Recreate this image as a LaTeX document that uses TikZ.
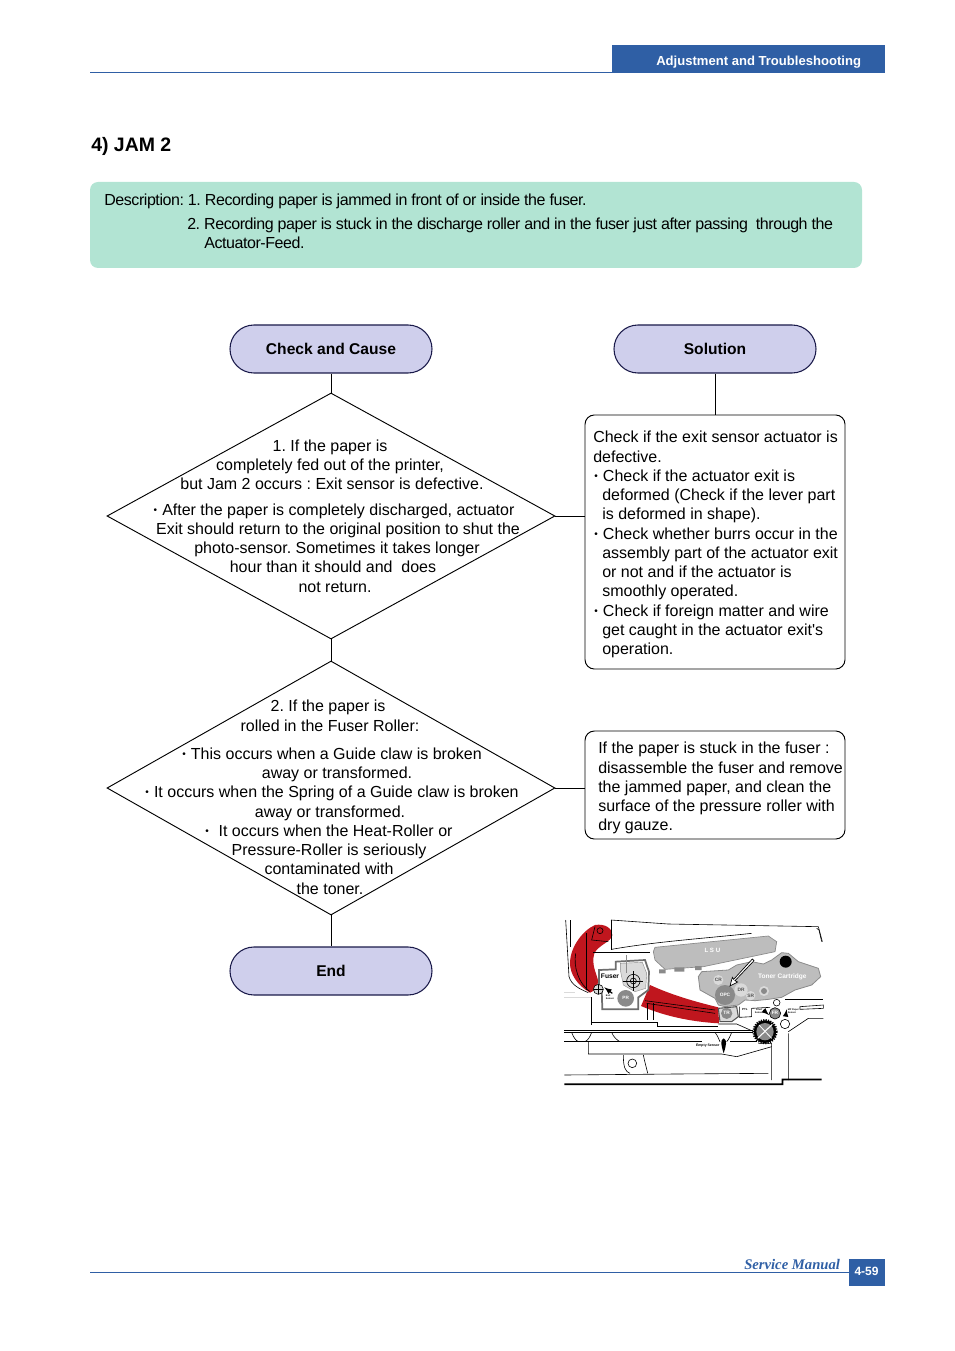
\documentclass[tikz,border=0pt]{standalone}
\usepackage{fontspec}
\setmainfont{Liberation Sans}
\newfontfamily\serifsm{Liberation Serif}
\usetikzlibrary{shapes.geometric}
\definecolor{hdrblue}{HTML}{2F5FA5}
\definecolor{descgreen}{HTML}{B2E4D3}
\definecolor{pilllav}{HTML}{CFCFEC}
\definecolor{pillline}{HTML}{1A1A4A}
\definecolor{swoosh}{HTML}{C0161E}
\definecolor{tonergray}{HTML}{BDBDBD}
\definecolor{rollgray}{HTML}{8A8A8A}
\definecolor{rolllight}{HTML}{DADADA}
\newcommand{\bul}{\raisebox{1pt}{\fontsize{7.5}{7.5}\selectfont •}\hspace{3.9pt}}
\newcommand{\pilltext}[1]{\raisebox{-.75pt}{#1}}
\frenchspacing
\tikzset{
  pill/.style={draw=pillline,fill=pilllav,line width=.8pt,rounded corners=18pt,minimum width=151.5pt,minimum height=36pt,inner sep=0pt,font=\fontsize{11.7}{14}\bfseries\selectfont},
  dia/.style={draw=black,line width=.7pt,diamond,aspect=1.8,inner sep=0pt,minimum width=336pt},
  sol/.style={draw=black,line width=.7pt,rounded corners=7pt,minimum width=195pt,inner sep=0pt},
  conn/.style={draw=black,line width=.7pt},
  txt/.style={inner sep=0pt,font=\fontsize{12}{14}\selectfont},
  ctr/.style={txt,anchor=base},
  lft/.style={txt,anchor=base west},
  desctxt/.style={lft,font=\fontsize{12}{14}\selectfont\addfontfeatures{LetterSpace=-2.7}},
  part/.style={line width=.45pt,draw=black},
  tiny/.style={inner sep=0pt,font=\fontsize{3.6}{4}\bfseries\selectfont},
}
\begin{document}
\begin{tikzpicture}[x=.75pt,y=-.75pt]
\useasboundingbox (0,0) rectangle (954,1351);
% header
\fill[hdrblue] (612,45) rectangle (885,73);
\draw[hdrblue,line width=.7pt] (90,72) -- (612,72);
\node[anchor=base west,inner sep=0pt,text=white,font=\fontsize{9.8}{12}\bfseries\selectfont] (hdr) at (656,66) {Adjustment and Troubleshooting};
\node[anchor=base west,inner sep=0pt,font=\fontsize{14.6}{16}\bfseries\selectfont] (title) at (91,152) {4) JAM 2};
% description
\node[fill=descgreen,rounded corners=6pt,minimum width=579pt,minimum height=64.5pt,inner sep=0pt] (desc) at (476,225) {};
\node[desctxt] (d1) at (104,206) {Description: 1. Recording paper is jammed in front of or inside the fuser.};
\node[desctxt] (d2) at (187,230) {2. Recording paper is stuck in the discharge roller and in the fuser just after passing\ \ through the};
\node[desctxt] (d3) at (204,249) {Actuator-Feed.};
% pills
\node[pill] (cc) at (331,349) {\pilltext{Check and Cause}};
\node[pill] (so) at (715,349) {\pilltext{Solution}};
\node[pill] (en) at (331,971) {\pilltext{End}};
% diamonds
\node[dia,minimum height=184.5pt] (q1) at (331,516) {};
\node[dia,minimum height=190.5pt] (q2) at (331,788) {};
% solution boxes
\node[sol,minimum height=190.5pt] (s1) at (715,542) {};
\node[sol,minimum height=81pt] (s2) at (715,785) {};
% connectors
\draw[conn] (cc.south) -- (q1.north);
\draw[conn] (q1.south) -- (q2.north);
\draw[conn] (q2.south) -- (en.north);
\draw[conn] (so.south) -- (s1.north);
\draw[conn] (q1.east) -- (q1.east -| s1.west);
\draw[conn] (q2.east) -- (q2.east -| s2.west);
% diamond 1 text
\node[ctr] (a1) at (330,451) {1. If the paper is};
\node[ctr] (a2) at (330,470) {completely fed out of the printer,};
\node[ctr] (a3) at (332,489) {but Jam 2 occurs : Exit sensor is defective.};
\node[ctr] (a4) at (334,515) {\bul After the paper is completely discharged, actuator};
\node[ctr] (a5) at (338,534) {Exit should return to the original position to shut the};
\node[ctr] (a6) at (337,553) {photo-sensor. Sometimes it takes longer};
\node[ctr] (a7) at (333,572) {hour than it should and\ \ does};
\node[ctr] (a8) at (335,592) {not return.};
% diamond 2 text
\node[ctr] (b1) at (328,711) {2. If the paper is};
\node[ctr] (b2) at (330,731) {rolled in the Fuser Roller:};
\node[ctr] (b3) at (332,759) {\bul This occurs when a Guide claw is broken};
\node[ctr] (b4) at (337,778) {away or transformed.};
\node[ctr] (b5) at (332,797) {\bul It occurs when the Spring of a Guide claw is broken};
\node[ctr] (b6) at (330,817) {away or transformed.};
\node[ctr] (b7) at (329,836) {\bul\ It occurs when the Heat-Roller or};
\node[ctr] (b8) at (329,855) {Pressure-Roller is seriously};
\node[ctr] (b9) at (329,874) {contaminated with};
\node[ctr] (b10) at (330,894) {the toner.};
% solution 1 text
\node[lft] (c1) at (593,442) {Check if the exit sensor actuator is};
\node[lft] (c2) at (593,462) {defective.};
\node[lft] (c3) at (594,481) {\bul Check if the actuator exit is};
\node[lft] (c4) at (602,500) {deformed (Check if the lever part};
\node[lft] (c5) at (602,519) {is deformed in shape).};
\node[lft] (c6) at (594,539) {\bul Check whether burrs occur in the};
\node[lft] (c7) at (602,558) {assembly part of the actuator exit};
\node[lft] (c8) at (602,577) {or not and if the actuator is};
\node[lft] (c9) at (602,596) {smoothly operated.};
\node[lft] (c10) at (594,616) {\bul Check if foreign matter and wire};
\node[lft] (c11) at (602,635) {get caught in the actuator exit\textquotesingle s};
\node[lft] (c12) at (602,654) {operation.};
% solution 2 text
\node[lft] (e1) at (598,753) {If the paper is stuck in the fuser :};
\node[lft] (e2) at (598,773) {disassemble the fuser and remove};
\node[lft] (e3) at (598,792) {the jammed paper, and clean the};
\node[lft] (e4) at (598,811) {surface of the pressure roller with};
\node[lft] (e5) at (598,830) {dry gauze.};
% footer
\draw[hdrblue,line width=.7pt] (90,1272) -- (849,1272);
\fill[hdrblue] (849,1259) rectangle (885,1286);
\node[anchor=base west,inner sep=0pt,text=hdrblue,font=\serifsm\fontsize{11}{12}\bfseries\itshape\selectfont] (sm) at (744,1269) {Service Manual};
\node[anchor=base,inner sep=0pt,text=white,font=\fontsize{9}{12}\bfseries\selectfont] (pg) at (866.5,1275.5) {4-59};
% illustration, in a local grid of thirds of a pixel
\begin{scope}[shift={(555,910)},x=.25pt,y=-.25pt]
  % swooshes
  \fill[swoosh] (120,45) .. controls (150,40) and (172,55) .. (172,75) .. controls (170,95) and (130,105) .. (118,130) .. controls (108,165) and (125,190) .. (130,215) .. controls (125,235) and (115,245) .. (105,248) .. controls (65,225) and (45,190) .. (45,160) .. controls (45,110) and (85,60) .. (120,45) -- cycle;
  \fill[swoosh] (285,225) .. controls (350,255) and (420,275) .. (490,292) -- (492,340) .. controls (400,335) and (320,315) .. (258,288) -- cycle;
  % frame lines
  \draw[part] (32,30) -- (42,200) .. controls (50,225) and (70,235) .. (100,248);
  \draw[part] (45,30) -- (45,110);
  \draw[part] (168,30) -- (340,42) -- (790,50) -- (802,95);
  \draw[part] (785,55) -- (792,60) -- (800,95);
  \draw[part] (168,30) -- (168,120);
  \draw[part] (170,118) .. controls (300,95) and (450,85) .. (590,70);
  \draw[part] (62,130) .. controls (55,170) and (70,220) .. (105,245);
  \draw[part] (95,70) -- (95,240);
  \draw[part] (120,50) -- (110,90) -- (160,95);
  \draw[part] (135,62) circle (9);
  \draw[line width=.7pt] (115,128) -- (285,128);
  \draw[rolllight,line width=.6pt] (28,262) -- (110,262) (28,246) -- (60,246);
  \draw[part] (108,262) -- (108,345);
  % fuser
  \draw[line width=1.3pt,draw=rollgray!80!black,fill=white] (182,155) -- (270,150) -- (282,185) -- (280,240) -- (250,262) -- (250,298) -- (142,298) -- (140,238) -- (132,225) -- (132,180) -- (182,178) -- cycle;
  \draw[draw=rollgray,line width=.3pt,fill=rolllight] (196,160) -- (262,157) -- (275,190) -- (272,235) -- (240,245) -- (205,225) -- (196,180) -- cycle;
  \draw[part] (235,213) circle (20);
  \draw[part] (235,213) circle (9);
  \draw[part] (205,213) -- (265,213) (235,183) -- (235,243);
  \fill[rollgray] (212,265) circle (25);
  \draw[line width=.7pt,draw=rollgray] (215,135) -- (215,190);
  \draw[part,fill=rolllight] (130,238) circle (15);
  \draw[part] (116,238) -- (144,238) (130,224) -- (130,252);
  \draw[line width=.9pt,-latex] (172,250) -- (148,232);
  \node[tiny,font=\fontsize{5}{6}\bfseries\selectfont] (fs) at (165,199) {Fuser};
  \node[tiny,text=white,font=\fontsize{3.5}{4}\bfseries\selectfont] (prl) at (212,265) {PR};
  \node[tiny,font=\fontsize{1.8}{2}\bfseries\selectfont,align=left] (ex) at (165,262) {Exit\\Sensor};
  % LSU
  \draw[draw=rollgray,fill=tonergray,line width=.5pt] (295,125) -- (300,112) -- (640,78) -- (665,95) -- (660,125) -- (445,170) -- (330,178) -- (300,150) -- cycle;
  \fill[rollgray] (312,178) rectangle (332,190) (358,172) rectangle (388,185) (420,168) rectangle (440,180);
  \node[tiny,text=white,font=\fontsize{4.6}{5}\bfseries\selectfont] (lsu) at (472,121) {L S U};
  % toner cartridge
  \draw[draw=rollgray,fill=tonergray,line width=.6pt] (430,200) -- (440,185) -- (520,180) -- (545,165) -- (590,155) -- (625,162) -- (650,150) -- (680,128) -- (700,130) -- (730,155) -- (790,175) -- (797,200) -- (770,225) -- (720,240) -- (680,262) -- (640,268) -- (600,272) -- (570,270) -- (550,285) -- (510,290) -- (490,285) -- (480,265) -- (435,240) -- cycle;
  \fill[black] (692,155) circle (18);
  \node[tiny,text=white,font=\fontsize{4.9}{5}\bfseries\selectfont] (tc) at (682,199) {Toner Cartridge};
  \fill[rolllight] (490,210) circle (15);
  \fill[rollgray] (510,255) circle (30);
  \fill[rolllight] (558,240) circle (20);
  \fill[rolllight] (587,257) circle (14);
  \fill[rolllight] (627,243) circle (15);
  \fill[rollgray] (627,243) circle (9);
  \node[tiny,text=rollgray!60!black] (cr) at (490,210) {CR};
  \node[tiny,text=white] (opc) at (510,255) {OPC};
  \node[tiny,text=rollgray!60!black] (dr) at (558,240) {DR};
  \node[tiny,text=rollgray!60!black] (sr) at (587,257) {SR};
  \draw[line width=.5pt,fill=white] (597,152) -- (540,212) -- (548,216) -- (525,228) -- (532,202) -- (536,208) -- (592,147) -- cycle;
  % transfer roller
  \draw[draw=rollgray!60!black,line width=.8pt,fill=rolllight] (490,295) -- (545,290) -- (550,320) -- (530,335) -- (495,335) -- cycle;
  \fill[rollgray] (515,310) circle (17);
  \node[tiny,text=white] (tr) at (515,310) {TR};
  % path to the right
  \draw[part] (270,272) -- (480,300) (275,280) -- (480,310);
  \draw[part] (278,280) -- (278,330) (296,280) -- (296,330);
  \draw[part] (553,290) -- (553,322) -- (590,320) -- (590,295) -- (645,292);
  \node[tiny,font=\fontsize{2.2}{2.5}\bfseries\selectfont,align=center] (ptl) at (570,298) {PTL};
  \node[tiny,font=\fontsize{1.8}{2}\bfseries\selectfont,align=center] (fd) at (612,303) {Feed\\Sensor};
  \node[tiny,font=\fontsize{1.8}{2}\bfseries\selectfont,align=left] (mp) at (715,304) {MP Paper\\Sensor};
  \draw[part] (690,268) -- (805,268);
  \draw[part] (735,290) -- (805,285) -- (805,295) -- (735,298) -- cycle;
  \fill[rollgray] (660,310) circle (17);
  \draw[part] (660,310) circle (17);
  \node[tiny,text=white] (fr) at (660,310) {FR};
  \draw[part,fill=white] (665,278) circle (10);
  \draw[part,fill=white] (690,342) circle (14);
  \draw[line width=.9pt,-latex] (625,300) -- (642,315);
  \draw[line width=.9pt,-latex] (692,318) -- (695,298);
  % gear
  \draw[line width=1.5pt,dash pattern=on .9pt off .9pt] (630,365) circle (35);
  \fill[black] (630,365) circle (34);
  \fill[rollgray] (630,365) circle (26);
  \draw[white,line width=.8pt] (608,385) -- (652,343);
  \draw[white,line width=.6pt] (612,345) -- (650,385);
  % base
  \draw[part] (110,336) -- (308,336) -- (308,348) -- (490,348);
  \draw[part] (490,342) -- (545,342) -- (590,362);
  \draw[line width=.7pt] (28,360) -- (595,360) (28,367) -- (595,367);
  \draw[part] (28,395) -- (440,395) (525,395) -- (605,395);
  \draw[part] (50,367) .. controls (55,380) and (60,390) .. (70,395) (110,367) .. controls (105,380) and (100,390) .. (90,395) (170,367) .. controls (175,380) and (185,390) .. (195,395) (480,367) .. controls (490,380) and (492,390) .. (495,395) (530,367) .. controls (525,380) and (520,390) .. (515,395);
  \draw[part] (650,400) -- (650,510) (700,370) -- (700,510) (760,325) -- (700,365) (760,325) -- (805,325) (650,400) -- (610,400);
  \draw[part] (100,395) -- (100,432) -- (500,432) -- (545,440) -- (650,410);
  \draw[part] (28,495) -- (360,492) -- (640,490);
  \draw[part] (205,435) .. controls (205,470) and (210,485) .. (225,490) (265,435) .. controls (270,460) and (275,475) .. (278,490);
  \draw[part] (232,460) circle (13);
  \fill[black] (506,385) .. controls (495,390) and (498,405) .. (506,430) .. controls (514,405) and (517,390) .. (506,385) -- cycle;
  \node[tiny,font=\fontsize{2.6}{3}\bfseries\selectfont,anchor=east] (es) at (494,406) {Empty Sensor};
  \fill[black] (28,520) rectangle (680,525) (680,506) rectangle (800,511) (680,506) rectangle (685,525);
\end{scope}
\end{tikzpicture}
\end{document}
